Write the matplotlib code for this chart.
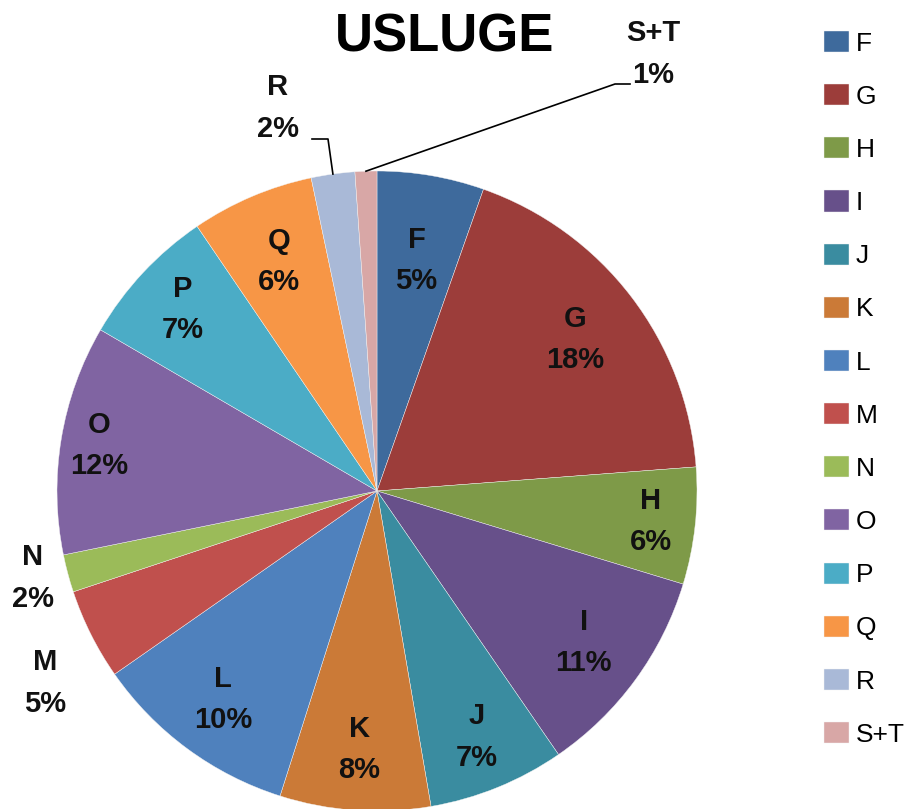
#!/usr/bin/env python

# Pie chart of services (USLUGE) by section
import math
import matplotlib
matplotlib.use("Agg")
import matplotlib.pyplot as plt

# Sections, their shares (%) and colours
sections = ["F", "G", "H", "I", "J", "K", "L", "M", "N", "O", "P", "Q", "R", "S+T"]
shares = [5.4, 18.4, 5.9, 10.7, 6.9, 7.6, 10.4, 4.6, 1.9, 11.6, 7.1, 6.2, 2.2, 1.1]
colors = ["#3E6A9C", "#9C3D3A", "#7E9A48", "#67508A", "#3A8CA0", "#CB7A37", "#4F81BD",
          "#C0504D", "#9BBB59", "#8064A2", "#4BACC6", "#F79646", "#A9B9D7", "#D8A7A6"]

plt.rcParams["font.family"] = ["Liberation Sans", "DejaVu Sans"]

W, H = 915, 809
fig = plt.figure(figsize=(W / 100, H / 100), dpi=100)
# Axes over the whole figure, 320 px per data unit, pie centre at (377, 491) px
cx, cy, R = 377, 491, 320
ax = fig.add_axes([0, 0, 1, 1])

wedges, _ = ax.pie(shares, colors=colors, startangle=90, counterclock=False,
                   radius=1, center=(0, 0), frame=True,
                   wedgeprops=dict(edgecolor="#f4f4f4", linewidth=0.3))
ax.set_xlim(-cx / R, (W - cx) / R)
ax.set_ylim(-(H - cy) / R, cy / R)
ax.axis("off")

# Inside labels: radius as a fraction of the pie radius (None = placed outside)
label_r = [0.73, 0.78, 0.86, 0.80, 0.83, 0.81, 0.81, None, None, 0.88, 0.83, 0.78, None, None]
# Outside labels: pixel positions of the label centre
outside = {"M": (45, 683), "N": (33, 578), "R": (278, 108), "S+T": (653, 54)}

def px(x, y):
    return (x - cx) / R, (cy - y) / R

for w, name, val, r in zip(wedges, sections, shares, label_r):
    txt = f"{name}\n{round(val)}%"
    if r is not None:
        ang = math.radians((w.theta1 + w.theta2) / 2)
        x, y = r * math.cos(ang), r * math.sin(ang)
    else:
        x, y = px(*outside[name])
    ax.text(x, y, txt, ha="center", va="center", fontsize=21,
            fontweight="bold", linespacing=1.6, color="#111111")

# Leader lines for R and S+T
leaders = {"R": [(312, 139), (328, 139)], "S+T": [(630, 84), (615, 84)]}
for w, name in zip(wedges, sections):
    if name in leaders:
        ang = math.radians((w.theta1 + w.theta2) / 2)
        pts = [px(*p) for p in leaders[name]] + [(math.cos(ang), math.sin(ang))]
        ax.plot([p[0] for p in pts], [p[1] for p in pts], color="black", lw=1.2)

# Title
fig.text(445 / W, 1 - 37 / H, "USLUGE", ha="center", va="center",
         fontsize=38, fontweight="bold")

# Legend on the right
ax.legend(wedges, sections, loc="upper left", bbox_to_anchor=(824 / W, 1 - 31 / H),
          bbox_transform=fig.transFigure, frameon=False, fontsize=19,
          handlelength=0.95, handleheight=0.85, handletextpad=0.25,
          labelspacing=1.08, borderpad=0, borderaxespad=0)

plt.savefig("out.png", dpi=100)
